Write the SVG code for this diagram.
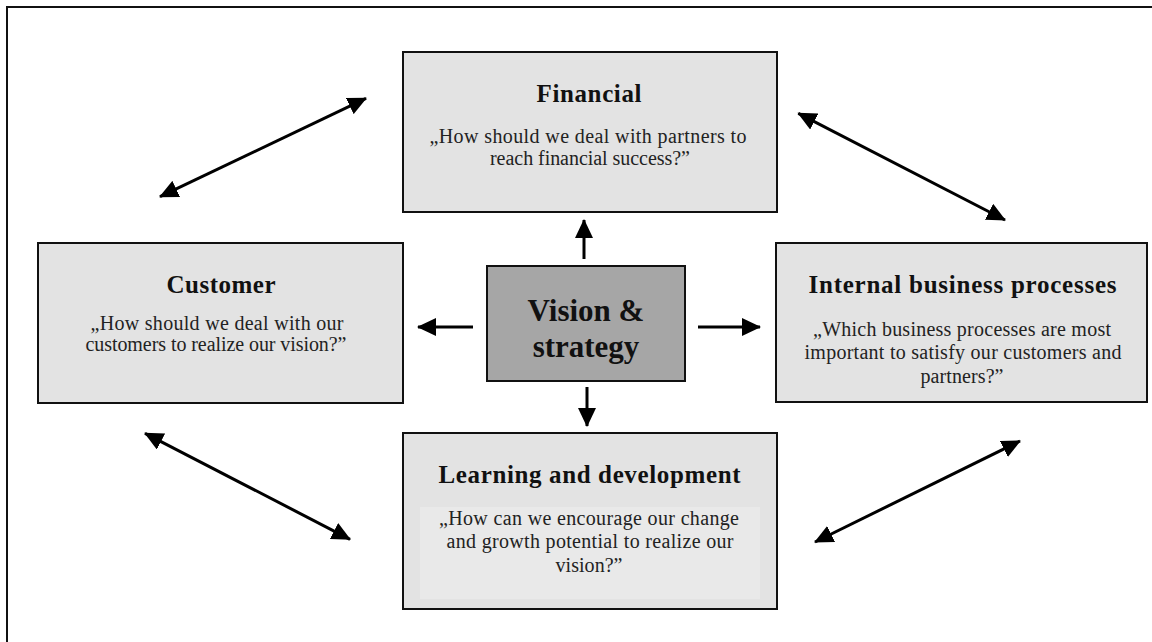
<svg xmlns="http://www.w3.org/2000/svg" width="1152" height="642" viewBox="0 0 1152 642">
  <style>
    .box { fill: #e3e3e3; stroke: #111; stroke-width: 2; }
    .core { fill: #a6a6a6; stroke: #111; stroke-width: 2; }
    .title { font-family: "Liberation Serif", serif; font-weight: bold; font-size: 25px; fill: #111; text-anchor: middle; }
    .body { font-family: "Liberation Serif", serif; font-size: 20px; fill: #222; text-anchor: middle; }
    .core-text { font-family: "Liberation Serif", serif; font-weight: bold; font-size: 31px; fill: #111; text-anchor: middle; }
    .link { stroke: #000; stroke-width: 3; fill: none; }
  </style>
  <defs>
    <marker id="head" markerUnits="userSpaceOnUse" markerWidth="20" markerHeight="18" refX="18" refY="9" orient="auto-start-reverse" viewBox="0 0 20 18">
      <path d="M0,0 L19,9 L0,18 Z" fill="#000"/>
    </marker>
  </defs>

  <rect width="1152" height="642" fill="#fff"/>
  <!-- outer frame (top and left edges) -->
  <path d="M1152,7 L7,7 L7,642" fill="none" stroke="#111" stroke-width="2"/>

  <g id="financial">
    <rect class="box" x="403" y="52" width="374" height="160"/>
    <text class="title" x="589" y="101.7" textLength="105">Financial</text>
    <text class="body" x="588" y="143.3" textLength="317">„How should we deal with partners to</text>
    <text class="body" x="590" y="165" textLength="200">reach financial success?”</text>
  </g>

  <g id="customer">
    <rect class="box" x="38" y="243" width="365" height="160"/>
    <text class="title" x="221" y="293.3" textLength="109">Customer</text>
    <text class="body" x="217" y="330" textLength="253">„How should we deal with our</text>
    <text class="body" x="216" y="351" textLength="261">customers to realize our vision?”</text>
  </g>

  <g id="vision">
    <rect class="core" x="487" y="266" width="198" height="115"/>
    <text class="core-text" x="586" y="321">Vision &amp;</text>
    <text class="core-text" x="586" y="357">strategy</text>
  </g>

  <g id="internal">
    <rect class="box" x="776" y="243" width="371" height="159"/>
    <text class="title" x="962.5" y="293.3" textLength="308">Internal business processes</text>
    <text class="body" x="962" y="336" textLength="298">„Which business processes are most</text>
    <text class="body" x="963" y="359.3" textLength="317">important to satisfy our customers and</text>
    <text class="body" x="962" y="382.7" textLength="83">partners?”</text>
  </g>

  <g id="learning">
    <rect class="box" x="403" y="433" width="374" height="176"/>
    <rect x="420" y="507" width="340" height="92" fill="#e9e9e9"/>
    <text class="title" x="589.5" y="482.7" textLength="302">Learning and development</text>
    <text class="body" x="589" y="525" textLength="300">„How can we encourage our change</text>
    <text class="body" x="590" y="548.3" textLength="287">and growth potential to realize our</text>
    <text class="body" x="589" y="571.7" textLength="67">vision?”</text>
  </g>

  <g id="connectors">
    <!-- from the core outwards -->
    <line class="link" x1="584" y1="259" x2="584" y2="220" marker-end="url(#head)"/>
    <line class="link" x1="473" y1="327" x2="418" y2="327" marker-end="url(#head)"/>
    <line class="link" x1="698" y1="327" x2="760" y2="327" marker-end="url(#head)"/>
    <line class="link" x1="587" y1="387" x2="587" y2="426" marker-end="url(#head)"/>
    <!-- two-way links between neighbouring perspectives -->
    <line class="link" x1="160" y1="196.7" x2="366" y2="98.3" marker-start="url(#head)" marker-end="url(#head)"/>
    <line class="link" x1="798.3" y1="113.3" x2="1005" y2="220" marker-start="url(#head)" marker-end="url(#head)"/>
    <line class="link" x1="145" y1="433.3" x2="350" y2="539.3" marker-start="url(#head)" marker-end="url(#head)"/>
    <line class="link" x1="815" y1="542" x2="1020" y2="441" marker-start="url(#head)" marker-end="url(#head)"/>
  </g>
</svg>
